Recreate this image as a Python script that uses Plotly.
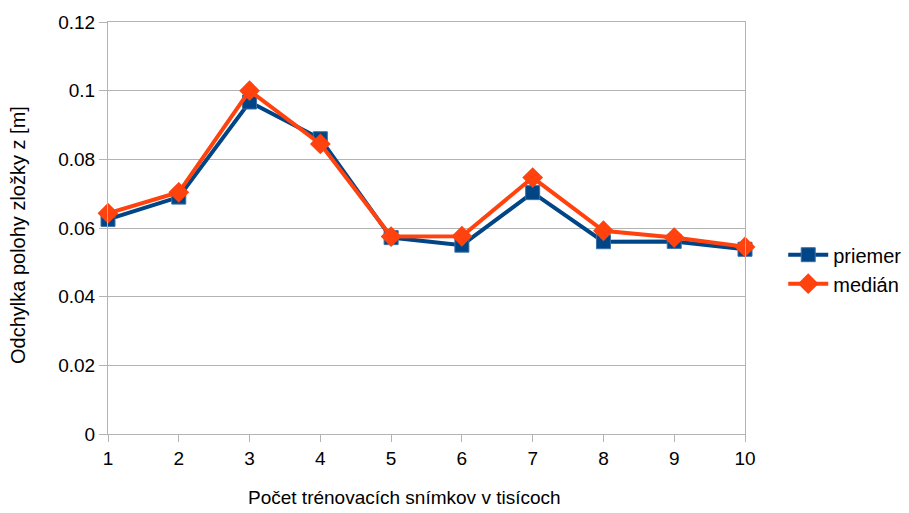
import plotly.graph_objects as go

x_vals = [1, 2, 3, 4, 5, 6, 7, 8, 9, 10]
priemer = [0.0625, 0.0690, 0.0967, 0.0860, 0.0572, 0.0550, 0.0703, 0.0560, 0.0561, 0.0538]
median = [0.0643, 0.0704, 0.1000, 0.0845, 0.0575, 0.0576, 0.0747, 0.0592, 0.0572, 0.0545]
y_ticks = [0, 0.02, 0.04, 0.06, 0.08, 0.1, 0.12]
y_tick_labels = ["0", "0.02", "0.04", "0.06", "0.08", "0.1", "0.12"]
x_title = "Počet trénovacích snímkov v tisícoch"
y_title = "Odchylka polohy zložky z [m]"

font_family = "Liberation Sans, Arial, sans-serif"

fig = go.Figure()
fig.add_trace(go.Scatter(
    x=x_vals, y=priemer, name="priemer", mode="lines+markers",
    line=dict(color="#004586", width=4),
    marker=dict(symbol="square", size=14, color="#004586",
                line=dict(color="#3a6fa8", width=1)),
    cliponaxis=False,
))
fig.add_trace(go.Scatter(
    x=x_vals, y=median, name="medián", mode="lines+markers",
    line=dict(color="#ff420e", width=4),
    marker=dict(symbol="diamond", size=16, color="#ff420e"),
    cliponaxis=False,
))

fig.update_layout(
    width=901, height=505,
    margin=dict(l=100, r=164, t=14, b=79, autoexpand=False),
    paper_bgcolor="white", plot_bgcolor="white",
    font=dict(family=font_family, color="black", size=19),
    legend=dict(x=1.06, y=0.40, yanchor="middle", xanchor="left",
                font=dict(size=20), tracegroupgap=0, itemwidth=40),
    showlegend=True,
    annotations=[
        dict(text=x_title, xref="paper", yref="paper", x=0.466, y=-0.153,
             xanchor="center", yanchor="middle", showarrow=False,
             font=dict(size=19)),
        dict(text=y_title, xref="paper", yref="paper", x=-0.1413, y=0.483,
             xanchor="center", yanchor="middle", showarrow=False, textangle=-90,
             font=dict(size=20)),
    ],
)
fig.update_xaxes(
    range=[1, 10], tickmode="array", tickvals=x_vals,
    showgrid=False, showline=True, linecolor="#b3b3b3", linewidth=1,
    mirror=True, ticks="outside", ticklen=7, tickcolor="#b3b3b3",
    tickfont=dict(size=19), automargin=False,
    zeroline=False,
)
fig.update_yaxes(
    range=[0, 0.12], tickmode="array", tickvals=y_ticks, ticktext=y_tick_labels,
    showgrid=True, gridcolor="#b3b3b3", gridwidth=1,
    showline=True, linecolor="#b3b3b3", linewidth=1, mirror=True,
    ticks="outside", ticklen=8, tickcolor="#b3b3b3",
    tickfont=dict(size=19), automargin=False,
    zeroline=False,
)

fig.write_html("out.html")
